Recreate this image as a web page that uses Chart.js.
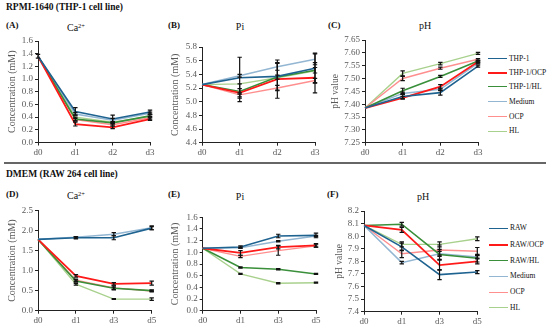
<!DOCTYPE html>
<html><head><meta charset="utf-8">
<script src="https://cdn.jsdelivr.net/npm/chart.js@4.4.1/dist/chart.umd.min.js"></script>
<style>
html,body{margin:0;padding:0;background:#fff;}
body{width:550px;height:333px;position:relative;overflow:hidden;font-family:"Liberation Serif","DejaVu Serif",serif;}
.t{position:absolute;white-space:nowrap;color:#111;transform:translateY(-50%);line-height:1;}
.c{transform:translate(-50%,-50%);}
.b{font-weight:bold;}
canvas{position:absolute;}
.sep{position:absolute;left:4px;width:542px;height:2px;background:#666;}
.lg{position:absolute;height:0;}
sup{font-size:65%;vertical-align:0.45em;line-height:0;}
</style></head><body>
<div class="sep" style="top:162px"></div>
<script>
// ---------------- DATA ----------------
const daysTop = ['d0','d1','d2','d3'];
const daysBottom = ['d0','d1','d3','d5'];
const seriesTop = ['THP-1','THP-1/OCP','THP-1/HL','Medium','OCP','HL'];
const seriesBottom = ['RAW','RAW/OCP','RAW/HL','Medium','OCP','HL'];

const ticksA = [0.0,0.2,0.4,0.6,0.8,1.0,1.2,1.4,1.6];
const ticksB = [4.4,4.6,4.8,5.0,5.2,5.4,5.6,5.8];
const ticksC = [7.25,7.30,7.35,7.40,7.45,7.50,7.55,7.60,7.65];
const ticksD = [0.0,0.5,1.0,1.5,2.0,2.5];
const ticksE = [0.0,0.2,0.4,0.6,0.8,1.0,1.2,1.4,1.6];
const ticksF = [7.4,7.5,7.6,7.7,7.8,7.9,8.0,8.1,8.2];

// (A) Ca2+ RPMI-1640, rows follow seriesTop
const caTop = [
  [1.36,0.49,0.37,0.48],
  [1.36,0.29,0.24,0.37],
  [1.36,0.37,0.31,0.42],
  [1.36,0.45,0.35,0.46],
  [1.36,0.36,0.28,0.39],
  [1.36,0.40,0.32,0.41]
];
const caTopErr = [
  [0.03,0.06,0.06,0.03],
  [0,0.03,0.02,0.02],
  [0,0.03,0.02,0.02],
  [0,0.02,0.03,0.02],
  [0,0.02,0.02,0.02],
  [0,0,0,0]
];
// (B) Pi RPMI-1640
const piTop = [
  [5.25,5.35,5.37,5.49],
  [5.25,5.13,5.33,5.35],
  [5.25,5.15,5.36,5.46],
  [5.25,5.38,5.51,5.62],
  [5.25,5.10,5.20,5.31],
  [5.25,5.26,5.35,5.45]
];
const piTopErr = [
  [0,0.30,0.20,0.22],
  [0,0.13,0.28,0.22],
  [0,0.04,0.03,0.04],
  [0,0.02,0.05,0.08],
  [0,0.03,0.04,0.03],
  [0,0,0,0]
];
// (C) pH RPMI-1640
const phTop = [
  [7.385,7.430,7.445,7.548],
  [7.385,7.425,7.468,7.565],
  [7.385,7.452,7.508,7.568],
  [7.385,7.442,7.458,7.560],
  [7.385,7.500,7.540,7.575],
  [7.385,7.520,7.558,7.598]
];
const phTopErr = [
  [0,0.008,0.010,0.004],
  [0,0.005,0.008,0.004],
  [0,0.010,0.004,0.003],
  [0,0.005,0.005,0.003],
  [0,0.008,0.004,0.003],
  [0,0.010,0.005,0.004]
];
// (D) Ca2+ DMEM
const caBottom = [
  [1.78,1.82,1.82,2.06],
  [1.78,0.87,0.67,0.69],
  [1.78,0.74,0.56,0.50],
  [1.78,1.83,1.91,2.07],
  [1.78,0.76,0.57,0.49],
  [1.78,0.66,0.29,0.29]
];
const caBottomErr = [
  [0,0.03,0.05,0.04],
  [0,0.03,0.03,0.05],
  [0,0.03,0.03,0.02],
  [0,0.02,0.04,0.05],
  [0,0.03,0.05,0.02],
  [0,0.02,0.01,0.03]
];
// (E) Pi DMEM
const piBottom = [
  [1.07,1.09,1.28,1.29],
  [1.07,0.99,1.09,1.12],
  [1.07,0.74,0.71,0.63],
  [1.07,1.08,1.19,1.28],
  [1.07,0.93,1.03,1.11],
  [1.07,0.63,0.47,0.48]
];
const piBottomErr = [
  [0,0.02,0.03,0.04],
  [0,0.04,0.03,0.03],
  [0,0.01,0.01,0.01],
  [0,0.01,0.01,0.01],
  [0,0.02,0.08,0.02],
  [0,0.01,0.01,0.01]
];
// (F) pH DMEM
const phBottom = [
  [8.085,7.915,7.695,7.715],
  [8.085,8.050,7.770,7.800],
  [8.085,8.095,7.855,7.825],
  [8.085,7.790,7.860,7.835],
  [8.085,7.860,7.890,7.880],
  [8.085,7.935,7.935,7.980]
];
const phBottomErr = [
  [0,0.030,0.040,0.012],
  [0,0.020,0.040,0.020],
  [0,0.015,0.040,0.030],
  [0,0.010,0.020,0.010],
  [0,0.030,0.040,0.030],
  [0,0.020,0.020,0.015]
];

// ---------------- STYLE ----------------
const colors = ['#1f6391','#ff1a1a','#3a8f3a','#93b6d2','#ff8f8f','#a9d18e'];
const widths = [1.6,1.8,1.6,1.5,1.4,1.4];
const tickColor = '#595959';

// ---------------- TEXT ----------------
function txt(html, x, cy, size, cls){
  const d=document.createElement('div');
  d.className='t '+(cls||'');
  d.style.left=x+'px'; d.style.top=cy+'px'; d.style.fontSize=size+'px';
  d.innerHTML=html; document.body.appendChild(d);
}
txt('RPMI-1640 (THP-1 cell line)',6,8,9.5,'b');
txt('(A)',6,25,9,'b');
txt('Ca<sup>2+</sup>',76,28,10,'c');
txt('(B)',168,25,9,'b');
txt('Pi',240,27,10,'c');
txt('(C)',328,24.5,9,'b');
txt('pH',425,25.5,10,'c');
txt('DMEM (RAW 264 cell line)',6,175,9.5,'b');
txt('(D)',6,194,9,'b');
txt('Ca<sup>2+</sup>',76,196,10,'c');
txt('(E)',168,194,9,'b');
txt('Pi',240,197,10,'c');
txt('(F)',327,194,9,'b');
txt('pH',423,197,10,'c');

function legend(names, x0, rows){
  names.forEach((n,i)=>{
    const l=document.createElement('div');
    l.className='lg';
    l.style.left=x0+'px'; l.style.top=(rows[i]-widths[i]/2)+'px';
    l.style.width='19px'; l.style.borderTop=(widths[i]+0.3)+'px solid '+colors[i];
    document.body.appendChild(l);
    txt(n, x0+21, rows[i], 7.5, '');
  });
}
legend(seriesTop, 488, [58.7,72.9,87.2,101.9,116.6,131.3]);
legend(seriesBottom, 489, [228.3,244.5,260.5,276.3,292.2,307.8]);

// ---------------- CHARTS ----------------
const errPlugin = {
  id:'errbars',
  afterDatasetsDraw(chart){
    const ctx=chart.ctx, xs=chart.scales.x, ys=chart.scales.y;
    ctx.save(); ctx.strokeStyle='#111'; ctx.lineWidth=1.2;
    chart.data.datasets.forEach(ds=>{
      (ds.errs||[]).forEach((e,i)=>{
        if(!e) return;
        const x=xs.getPixelForValue(i);
        const y1=ys.getPixelForValue(ds.data[i]+e), y2=ys.getPixelForValue(ds.data[i]-e);
        ctx.beginPath();
        ctx.moveTo(x,y1); ctx.lineTo(x,y2);
        ctx.moveTo(x-2.2,y1); ctx.lineTo(x+2.2,y1);
        ctx.moveTo(x-2.2,y2); ctx.lineTo(x+2.2,y2);
        ctx.stroke();
      });
    });
    ctx.restore();
  }
};

function panel(o){
  const cl=Math.floor(o.l-38), ct=Math.floor(o.t-10);
  const cw=Math.ceil(o.r+12)-cl, ch=Math.ceil(o.b+20)-ct;
  const yW=o.l-cl, padTop=o.t-ct, padRight=cl+cw-o.r, xH=ct+ch-o.b;
  const cv=document.createElement('canvas');
  cv.width=cw; cv.height=ch; cv.style.left=cl+'px'; cv.style.top=ct+'px';
  cv.style.width=cw+'px'; cv.style.height=ch+'px';
  document.body.appendChild(cv);
  const tf=o.titleSize||10;
  new Chart(cv,{
    type:'line',
    data:{
      labels:o.labels,
      datasets:o.values.map((v,i)=>({
        label:o.names[i], data:v, errs:o.errs[i],
        borderColor:colors[i], backgroundColor:colors[i],
        borderWidth:widths[i], pointRadius:0, tension:0, fill:false
      }))
    },
    options:{
      responsive:false, animation:false, devicePixelRatio:1,
      layout:{padding:{top:padTop,right:padRight,left:0,bottom:0}},
      plugins:{legend:{display:false},tooltip:{enabled:false},title:{display:false}},
      scales:{
        x:{
          offset:false,
          grid:{display:true,drawOnChartArea:false,drawTicks:true,tickLength:3,color:'#222'},
          border:{display:true,color:'#222',width:1},
          ticks:{color:tickColor,font:{family:'Liberation Serif',size:9},padding:2,maxRotation:0,autoSkip:false},
          afterFit(s){s.height=xH;}
        },
        y:{
          min:o.ticks[0], max:o.ticks[o.ticks.length-1],
          afterBuildTicks(s){s.ticks=o.ticks.map(v=>({value:v}));},
          grid:{display:true,drawOnChartArea:false,drawTicks:true,tickLength:3,color:'#222'},
          border:{display:true,color:'#222',width:1},
          ticks:{color:tickColor,font:{family:'Liberation Serif',size:9},padding:2,autoSkip:false,
            callback:(v)=>Number(v).toFixed(o.dec)},
          title:{display:true,text:o.ytitle,color:tickColor,
            font:{family:'Liberation Serif',size:tf},padding:{top:o.tx-cl-tf*0.6,bottom:0}},
          afterFit(s){s.width=yW;}
        }
      }
    },
    plugins:[errPlugin]
  });
}

panel({l:38,t:41,r:150,b:142.5,tx:12,labels:daysTop,names:seriesTop,values:caTop,errs:caTopErr,ticks:ticksA,dec:1,ytitle:'Concentration (mM)'});
panel({l:202,t:47,r:315,b:142.7,tx:175,labels:daysTop,names:seriesTop,values:piTop,errs:piTopErr,ticks:ticksB,dec:1,ytitle:'Concentration (mM)'});
panel({l:365,t:40,r:478,b:142.7,tx:335,labels:daysTop,names:seriesTop,values:phTop,errs:phTopErr,ticks:ticksC,dec:2,ytitle:'pH value',titleSize:9.5});
panel({l:38,t:210.5,r:151.7,b:310.7,tx:12,labels:daysBottom,names:seriesBottom,values:caBottom,errs:caBottomErr,ticks:ticksD,dec:1,ytitle:'Concentration (mM)'});
panel({l:202.7,t:217.3,r:316,b:310.7,tx:175,labels:daysBottom,names:seriesBottom,values:piBottom,errs:piBottomErr,ticks:ticksE,dec:1,ytitle:'Concentration (mM)'});
panel({l:364,t:211,r:477.3,b:311.7,tx:339,labels:daysBottom,names:seriesBottom,values:phBottom,errs:phBottomErr,ticks:ticksF,dec:1,ytitle:'pH value',titleSize:9.5});
</script>
</body></html>
